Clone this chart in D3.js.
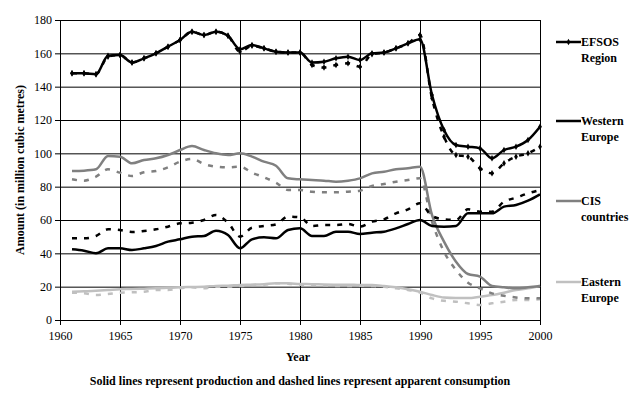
<!DOCTYPE html>
<html>
<head>
<meta charset="utf-8">
<script src="https://cdn.jsdelivr.net/npm/d3@7"></script>
<style>
	body { margin: 0; background: #fff; }
	svg text { font-family: "Liberation Serif", "Times New Roman", serif; }
</style>
</head>
<body>
<svg id="svg_chart"></svg>
<script>

var years = [1961, 1962, 1963, 1964, 1965, 1966, 1967, 1968, 1969, 1970,
	1971, 1972, 1973, 1974, 1975, 1976, 1977, 1978, 1979, 1980,
	1981, 1982, 1983, 1984, 1985, 1986, 1987, 1988, 1989, 1990,
	1991, 1992, 1993, 1994, 1995, 1996, 1997, 1998, 1999, 2000];

// production (solid lines)
var efsos_prod = [148, 148, 147.5, 158.5, 159, 154.5, 157, 160, 164, 168,
	173, 171, 173, 170.5, 162.5, 165, 163, 161, 160.5, 160.5,
	154.5, 155, 157, 158, 156, 160, 160.5, 163, 166, 168.5,
	135, 114, 105, 104, 103, 97, 102, 104, 108, 116];
var west_prod = [42.4, 41.6, 40, 43, 43, 42, 43, 44.4, 47, 48.4,
	50, 50.4, 53.6, 51, 43, 48.4, 49.6, 49, 54, 55,
	50.4, 50.4, 53, 53, 51.6, 52.4, 53, 55, 57.6, 60,
	56.4, 56, 56.4, 64, 64, 64, 68, 69, 71.6, 75.4];
var cis_prod = [89.4, 89.6, 90.4, 98.4, 98, 94, 96, 97, 99, 102,
	104.4, 102, 100, 99, 100, 98, 95, 92.6, 85, 84.4,
	84, 83.6, 83, 83.6, 85, 88, 89, 90.4, 91, 92,
	63, 47, 35, 27.6, 26, 20.4, 19.6, 19, 19.6, 20.4];
var east_prod = [17, 17.2, 17.6, 18, 18.5, 18.6, 18.8, 19, 19.3, 19.6,
	19.8, 20, 20.4, 20.6, 21, 21.2, 21.5, 22, 22, 21.6,
	21.5, 21.3, 21.2, 21.2, 21, 21, 20.4, 19.6, 18.5, 17,
	15, 13.5, 13.2, 13.2, 14, 15, 16.4, 18, 19, 20.6];

// apparent consumption (dashed lines)
var efsos_cons = [148, 148, 147.5, 158, 159, 154.5, 157, 160, 164, 168,
	173, 171, 173, 170.5, 161, 164.5, 163, 161, 160.5, 160.5,
	153, 151.5, 153, 154, 152, 159.5, 160.5, 163, 166, 171,
	133, 110, 99, 98, 91, 88, 94, 98, 100, 104];
var west_cons = [49, 49, 50.4, 54.4, 54, 52.8, 53.4, 54.4, 56, 58,
	58.4, 60, 63, 58.4, 50, 55.4, 56.4, 57.4, 62, 61.6,
	56.4, 57, 57, 57.6, 56, 59, 60.4, 64, 66.4, 70,
	62.4, 60.4, 60, 66.4, 65, 65, 71, 73.4, 76, 78];
var cis_cons = [84.4, 83.6, 86, 90.4, 88.4, 86.4, 88.6, 89.4, 91.6, 95,
	96.6, 93.6, 92, 91.6, 92, 88.4, 85.6, 82.4, 78, 78,
	77, 76.6, 76.6, 77, 77.6, 80.4, 81.6, 83, 84, 85,
	59, 41, 30, 22.4, 19, 16, 14.5, 13.5, 13, 13];
var east_cons = [16.4, 16, 15, 15.6, 16.4, 16.6, 17, 18, 18, 19,
	19.6, 19, 20, 20, 20.4, 21, 21.2, 22, 21.8, 21.2,
	21, 20.8, 20.4, 20.4, 20.6, 20.4, 20, 19, 18, 16.5,
	13, 11.5, 11, 10, 9, 10, 11, 12, 12, 12.5];

var x_ticks = [1960, 1965, 1970, 1975, 1980, 1985, 1990, 1995, 2000];
var y_ticks = [0, 20, 40, 60, 80, 100, 120, 140, 160, 180];

var legend_names = [["EFSOS", "Region"], ["Western", "Europe"], ["CIS", "countries"], ["Eastern", "Europe"]];


function fn_draw_chart() {
	var width = 642, height = 394;
	var plot = {left: 60, top: 20, right: 540, bottom: 320};

	var x = d3.scaleLinear()
	    .domain([1960, 2000])
	    .range([plot.left, plot.right]);

	var y = d3.scaleLinear()
	    .domain([0, 180])
	    .range([plot.bottom, plot.top]);

	var svg = d3.select("svg#svg_chart")
	    .attr("width", width)
	    .attr("height", height);

	// ====================================================
	// grid -- black lines every 5 years and every 20 units
	svg.append("g")
	    .attr("class", "grid grid--x")
	    .attr("transform", "translate(0," + plot.bottom + ")")
	    .call(d3.axisBottom(x)
	        .tickValues(x_ticks)
	        .tickSize(-(plot.bottom - plot.top))
	        .tickFormat(function() { return ""; }))
	    .call(function(g) { g.select(".domain").remove(); })
	    .selectAll("line")
	    .attr("stroke", "#000");

	svg.append("g")
	    .attr("class", "grid grid--y")
	    .attr("transform", "translate(" + plot.left + ",0)")
	    .call(d3.axisLeft(y)
	        .tickValues(y_ticks)
	        .tickSize(-(plot.right - plot.left))
	        .tickFormat(function() { return ""; }))
	    .call(function(g) { g.select(".domain").remove(); })
	    .selectAll("line")
	    .attr("stroke", "#000");

	// ====================================================
	// axes
	svg.append("g")
	    .attr("class", "axis axis--x")
	    .attr("transform", "translate(0," + plot.bottom + ")")
	    .call(d3.axisBottom(x)
	        .tickValues(x_ticks)
	        .tickSizeInner(5)
	        .tickSizeOuter(0)
	        .tickPadding(6)
	        .tickFormat(d3.format("d")));

	svg.append("g")
	    .attr("class", "axis axis--y")
	    .attr("transform", "translate(" + plot.left + ",0)")
	    .call(d3.axisLeft(y)
	        .tickValues(y_ticks)
	        .tickSizeInner(5)
	        .tickSizeOuter(0)
	        .tickPadding(3));

	svg.selectAll(".axis path, .axis line").attr("stroke", "#000");
	svg.selectAll(".axis text")
	    .attr("font-size", "12px")
	    .attr("fill", "#000")
	    .attr("font-family", "'Liberation Serif', serif");

	// ====================================================
	// series
	var series = [
		{vals: efsos_prod, color: "#000", dash: null, marker: true},
		{vals: efsos_cons, color: "#000", dash: "5,7", marker: true},
		{vals: west_prod, color: "#000", dash: null, marker: false},
		{vals: west_cons, color: "#000", dash: "5,7", marker: false},
		{vals: cis_prod, color: "#808080", dash: null, marker: false},
		{vals: cis_cons, color: "#808080", dash: "5,7", marker: false},
		{vals: east_prod, color: "#c0c0c0", dash: null, marker: false},
		{vals: east_cons, color: "#c0c0c0", dash: "5,7", marker: false}
	];

	var line = d3.line()
	    .x(function(d, i) { return x(years[i]); })
	    .y(function(d) { return y(d); })
	    .curve(d3.curveMonotoneX);

	// draw lighter ones first so the black sits on top
	var draw_order = [6, 7, 4, 5, 3, 2, 1, 0];

	draw_order.forEach(function(k) {
		var s = series[k];
		var g = svg.append("g").attr("class", "series series-" + k);
		g.append("path")
		    .datum(s.vals)
		    .attr("fill", "none")
		    .attr("stroke", s.color)
		    .attr("stroke-width", 2.5)
		    .attr("stroke-dasharray", s.dash)
		    .attr("d", line);
		if (s.marker) {
			g.selectAll("path.marker")
			    .data(s.vals)
			    .enter().append("path")
			    .attr("class", "marker")
			    .attr("fill", s.color)
			    .attr("d", d3.symbol().type(d3.symbolDiamond).size(12))
			    .attr("transform", function(d, i) {
			    	return "translate(" + x(years[i]) + "," + y(d) + ")";
			    });
		}
	});

	// ====================================================
	// legend
	var legend_colors = ["#000", "#000", "#808080", "#c0c0c0"];
	var legend_y = [42, 121, 201, 282];

	var legend = svg.append("g").attr("class", "legend");
	legend_names.forEach(function(name, i) {
		var gl = legend.append("g")
		    .attr("transform", "translate(556," + legend_y[i] + ")");
		gl.append("line")
		    .attr("x1", 0).attr("x2", 25)
		    .attr("y1", 0).attr("y2", 0)
		    .attr("stroke", legend_colors[i])
		    .attr("stroke-width", 2.5);
		if (i == 0) {
			gl.append("path")
			    .attr("d", d3.symbol().type(d3.symbolDiamond).size(12))
			    .attr("transform", "translate(12.5,0)")
			    .attr("fill", "#000");
		}
		gl.append("text")
		    .attr("x", 25)
		    .attr("y", 4)
		    .attr("font-size", "12px")
		    .attr("font-weight", "bold")
		    .text(name[0]);
		gl.append("text")
		    .attr("x", 25)
		    .attr("y", 20)
		    .attr("font-size", "12px")
		    .attr("font-weight", "bold")
		    .text(name[1]);
	});

	// ====================================================
	// titles
	svg.append("text")
	    .attr("transform", "translate(24," + ((plot.top + plot.bottom) / 2) + ") rotate(-90)")
	    .attr("text-anchor", "middle")
	    .attr("font-size", "12px")
	    .attr("font-weight", "bold")
	    .text("Amount (in million cubic metres)");

	svg.append("text")
	    .attr("x", 298)
	    .attr("y", 361)
	    .attr("text-anchor", "middle")
	    .attr("font-size", "12px")
	    .attr("font-weight", "bold")
	    .text("Year");

	svg.append("text")
	    .attr("x", 300)
	    .attr("y", 385)
	    .attr("text-anchor", "middle")
	    .attr("font-size", "12px")
	    .attr("font-weight", "bold")
	    .text("Solid lines represent production and dashed lines represent apparent consumption");
}

fn_draw_chart();

</script>
</body>
</html>
